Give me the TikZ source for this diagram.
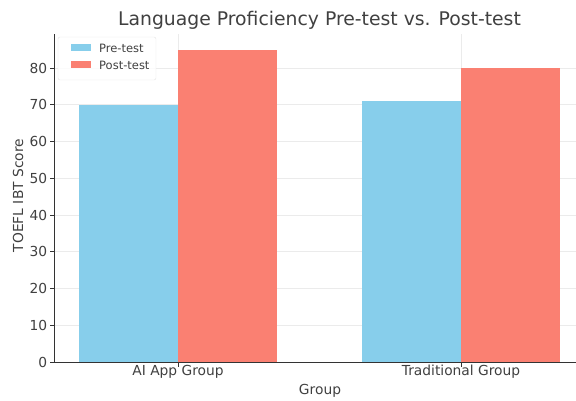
\documentclass[tikz,border=0pt]{standalone}
\usepackage{fontspec}
\setmainfont{DejaVu Sans}
\usepackage{tikz}
\usetikzlibrary{positioning}
\definecolor{preblue}{HTML}{87CEEB}
\definecolor{postred}{HTML}{FA8072}
\definecolor{gridgray}{HTML}{EBEBEB}
\definecolor{axisgray}{HTML}{333333}
\definecolor{textgray}{HTML}{404040}
\begin{document}
\begin{tikzpicture}[
    x=1pt, y=1pt,
    ticklabel/.style={font=\fontsize{13.8}{15}\selectfont, text=textgray, inner sep=0pt},
    legendtext/.style={font=\fontsize{11.5}{13}\selectfont, text=textgray, inner sep=0pt, anchor=west},
    bar/.style={fill=#1, draw=none},
    gridline/.style={draw=gridgray, line width=0.8pt},
    spine/.style={draw=axisgray, line width=1pt},
]
    \useasboundingbox (0,0) rectangle (576,400);
    
    % Title
    \node[font=\fontsize{18.8}{21}\selectfont, text=textgray] (title) at (319.5,380) {Language Proficiency Pre-test vs. Post-test};
    
    % Data area
    \begin{scope}[shift={(178,38)}, x=283pt, y=3.675pt]
        % Grid
        \foreach \v in {10,20,...,80}
            \draw[gridline] (-0.435,\v) -- (1.406,\v);
        \foreach \g in {0,1}
            \draw[gridline] (\g,0) -- (\g,89.25);
        
        % Bars
        \fill[bar=preblue] (-0.35,0) rectangle (0,70);
        \fill[bar=postred] (0,0) rectangle (0.35,85);
        \fill[bar=preblue] (0.65,0) rectangle (1,71);
        \fill[bar=postred] (1,0) rectangle (1.35,80);
        
        % Axes
        \draw[spine] (-0.435,89.25) -- (-0.435,0) -- (1.406,0);
        \foreach \v in {0,10,...,80} {
            \draw[spine, line width=0.8pt] (-0.435,\v) -- ++(-5pt,0);
            \node[ticklabel, anchor=east] (ytick\v) at ([xshift=-7.5pt]-0.435,\v) {\v};
        }
        \draw[spine, line width=0.8pt] (0,0) -- ++(0,-5pt);
        \draw[spine, line width=0.8pt] (1,0) -- ++(0,-5pt);
        \node[ticklabel] (aiapp) at ([yshift=-10pt]0,0) {AI App Group};
        \node[ticklabel] (trad) at ([yshift=-10pt]1,0) {Traditional Group};
    \end{scope}
    
    % Axis labels
    \node[ticklabel] (xlabel) at (320,9) {Group};
    \node[ticklabel, rotate=90] (ylabel) at (18,204.5) {TOEFL IBT Score};
    
    % Legend
    \node[draw=gridgray!80!black!40, fill=white, fill opacity=0.8, rounded corners=2pt, minimum width=98pt, minimum height=43pt, inner sep=0pt] (legend) at (107,341.5) {};
    \fill[preblue] (71,348.5) rectangle (91,355.5);
    \fill[postred] (71,331.5) rectangle (91,338.5);
    \node[legendtext] (pretext) at (99,352) {Pre-test};
    \node[legendtext] (posttext) at (99,335) {Post-test};
\end{tikzpicture}
\end{document}
